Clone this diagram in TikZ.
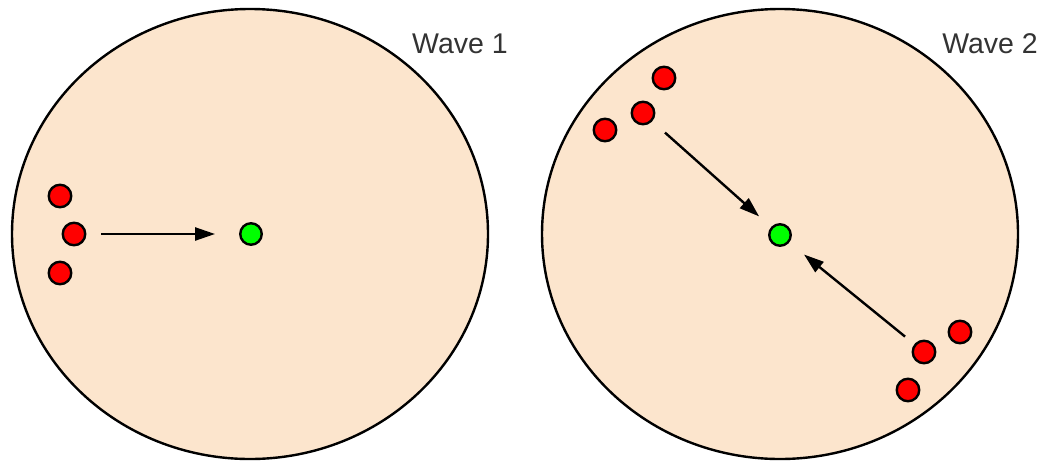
\documentclass[tikz,border=0pt]{standalone}
\usepackage{fontspec}
\setmainfont{Liberation Sans}
\usetikzlibrary{arrows.meta}
\definecolor{peach}{HTML}{FCE5CD}
\definecolor{dotred}{HTML}{FF0000}
\definecolor{dotgreen}{HTML}{00FF00}
\definecolor{txt}{HTML}{333333}
\tikzset{
  area/.style={draw=black,line width=2.4pt,fill=peach},
  reddot/.style={circle,draw=black,line width=2.4pt,fill=dotred,minimum size=22.5pt,inner sep=0pt},
  greendot/.style={circle,draw=black,line width=2.4pt,fill=dotgreen,minimum size=21.5pt,inner sep=0pt},
  flow/.style={line width=2.4pt,-{Triangle[length=20pt,width=13pt]}},
  wavelabel/.style={text=txt,font=\fontsize{28.5}{34}\selectfont,anchor=base east,inner sep=0pt}
}
\begin{document}
\begin{tikzpicture}[x=1pt,y=-1pt]
\useasboundingbox (0,0) rectangle (1046,461);
% areas
\draw[area] (250,234) ellipse [x radius=238, y radius=225];
\draw[area] (780,234) ellipse [x radius=238, y radius=225];
\node[wavelabel] (w1) at (508,53) {Wave 1};
\node[wavelabel] (w2) at (1038,53) {Wave 2};
% wave 1
\node[reddot] (r1) at (60,196) {};
\node[reddot] (r2) at (74,234) {};
\node[reddot] (r3) at (60,273) {};
\node[greendot] (g1) at (251,234) {};
\draw[flow,shorten <=15pt,shorten >=24pt] (r2) -- (g1);
% wave 2
\node[reddot] (r4) at (664,78) {};
\node[reddot] (r5) at (643,113) {};
\node[reddot] (r6) at (605,130) {};
\node[greendot] (g2) at (780,235) {};
\node[reddot] (r7) at (960,332) {};
\node[reddot] (r8) at (924,352) {};
\node[reddot] (r9) at (908,390) {};
\draw[flow,shorten <=17pt,shorten >=16pt] (r5) -- (g2);
\draw[flow,shorten <=12pt,shorten >=19pt] (r8) -- (g2);
\end{tikzpicture}
\end{document}
